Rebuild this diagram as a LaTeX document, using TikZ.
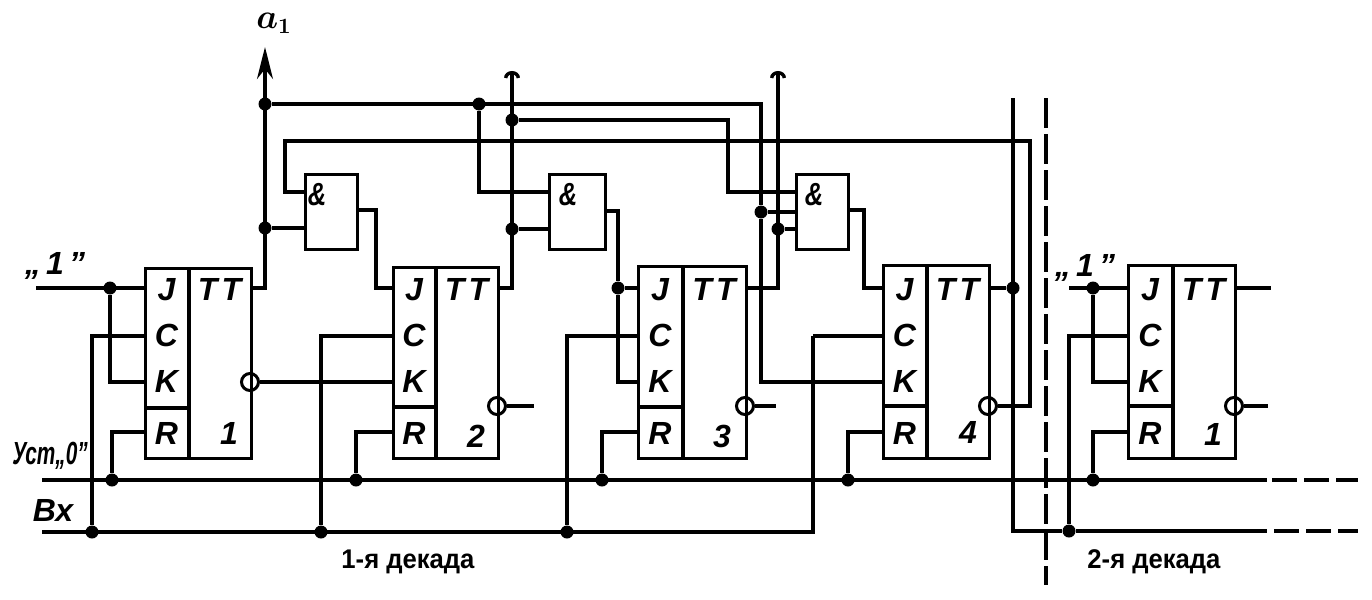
\documentclass[tikz,border=0pt]{standalone}
\usepackage{fontspec}
\setmainfont{Liberation Sans}
\usetikzlibrary{arrows.meta}
\tikzset{
	wire/.style={line width=1.7pt},
	dot/.style={circle, fill=black, inner sep=0, minimum size=6.5pt},
	inv/.style={circle, draw, line width=1.5pt, inner sep=0, minimum size=8.5pt},
	cell/.style={draw, line width=1.7pt, inner sep=0, anchor=north west},
	lbl/.style={font=\fontsize{16}{16}\selectfont\bfseries\itshape, inner sep=0},
	title/.style={font=\fontsize{13.5}{13.5}\selectfont\bfseries, inner sep=0, xscale=.95},
	breaks/.style={dash pattern=on 12.5pt off 3.5pt}
}
\begin{document}
\begin{tikzpicture}[x=.5pt, y=-.5pt]
	\useasboundingbox (0, 0) rectangle (1372, 600);
	\foreach \i/\xl/\xd/\xr/\yt/\ys/\yn/\xn/\yd in {1/144/189/250/267/408/382/229/433, 2/392/436/497/266/407/406/476/436, 3/637/683/745/265/407/406/722/436, 4/882/927/988/264/406/406/968/432, 5/1127/1173/1234/264/406/406/1213/434}
	{
		\node[cell, minimum width={(\xr-\xl)*.5pt}, minimum height={(457-\yt)*.5pt}] (ff\i) at (\xl, \yt) {};
		\draw[wire] (\xd, \yt) -- (\xd, 457);
		\draw[wire] (\xl, \ys) -- (\xd, \ys);
		\coordinate (j\i) at (\xl, 288);
		\coordinate (c\i) at (\xl, 336);
		\coordinate (k\i) at (\xl, 382);
		\coordinate (r\i) at (\xl, 432);
		\coordinate (q\i) at (\xr, 288);
		\node[inv] (n\i) at (\xr, \yn) {};
		\node[lbl] (jt\i) at ({(\xl+\xd)/2}, 290) {J};
		\node[lbl] (ct\i) at ({(\xl+\xd)/2}, 335) {C};
		\node[lbl] (kt\i) at ({(\xl+\xd)/2}, 381) {K};
		\node[lbl] (rt\i) at ({(\xl+\xd)/2}, 433) {R};
		\node[lbl] (tt\i) at ({(\xd+\xr)/2}, 289) {T\kern2pt T};
		\node[lbl] (num\i) at (\xn, \yd) {\ifnum\i=5 1\else\i\fi};
	}
	\foreach \i/\xl/\xr/\ya/\yb/\yc/\yo/\xa in {1/304/356/192/228/228/210/317, 2/548/604/192/229/229/211/568, 3/795/847/192/212/229/210/814}
	{
		\node[cell, minimum width={(\xr-\xl)*.5pt}, minimum height=37.5pt] (g\i) at (\xl, 173) {};
		\node[lbl, xscale=.8] (gt\i) at (\xa, 195) {\&};
		\coordinate (g\i a) at (\xl, \ya);
		\coordinate (g\i b) at (\xl, \yb);
		\coordinate (g\i c) at (\xl, \yc);
		\coordinate (g\i o) at (\xr, \yo);
	}
	\foreach \n/\x/\y in {dja/110/288, djb/618/288, djc/1013/288, djd/1093/288, uu1/112/480, uu2/356/480, uu3/602/480, uu4/848/480, uu5/1093/480, vv1/92/532, vv2/321/532, vv3/567/532, vv5/1069/531, tpa/265/104, tpb/479/104, tpc/512/120, gta/265/228, gtb/512/229, gtc/761/212, gtd/778/229}
		\node[dot] (\n) at (\x, \y) {};
	\coordinate (tipa) at (265, 47);
	\coordinate (tipb) at (512, 71);
	\coordinate (tipc) at (778, 71);
	\coordinate (fbr) at (1030, 141);
	\coordinate (fbl) at (285, 141);
	\coordinate (cga) at (376, 250);
	\coordinate (cgb) at (728, 150);
	\coordinate (cgc) at (864, 250);
	\coordinate (cck) at (813, 336);
	\coordinate (top) at (1013, 98);
	\coordinate (ina) at (36, 288);
	\coordinate (inb) at (1069, 288);
	\coordinate (usa) at (42, 480);
	\coordinate (usb) at (1267, 480);
	\coordinate (usc) at (1272, 480);
	\coordinate (usd) at (1358, 480);
	\coordinate (vxa) at (42, 532);
	\coordinate (vxb) at (1267, 531);
	\coordinate (vxc) at (1274, 531);
	\coordinate (vxd) at (1358, 531);
	\coordinate (spa) at (1046, 98);
	\coordinate (spb) at (1046, 585);
	\coordinate (ena) at (534, 406);
	\coordinate (enb) at (776, 406);
	\coordinate (enc) at (1268, 406);
	\coordinate (end) at (1271, 288);
	\begin{scope}[wire]
		\draw (ina) -- (j1);
		\draw (dja) |- (k1);
		\draw (c1) -| (vv1);
		\draw (r1) -| (uu1);
		\draw (n1) -- (k2);
		\draw (c2) -| (vv2);
		\draw (r2) -| (uu2);
		\draw (c3) -| (vv3);
		\draw (r3) -| (uu3);
		\draw (r4) -| (uu4);
		\draw (c4) -- (cck);
		\draw (vxa) -| (cck);
		\draw[-{Stealth[length=16pt, width=8pt, inset=5pt]}] (q1) -| (tipa);
		\draw[-{Arc Barb[length=3.5pt, width=8pt]}] (q2) -| (tipb);
		\draw[-{Arc Barb[length=3.5pt, width=8pt]}] (q3) -| (tipc);
		\draw (tpa) -| (gtc);
		\draw (gtc) |- (k4);
		\draw (tpb) |- (g2a);
		\draw (tpc) -| (cgb);
		\draw (cgb) |- (g3a);
		\draw (n4) -| (fbr) -- (fbl) |- (g1a);
		\draw (gta) -- (g1b);
		\draw (gtb) -- (g2b);
		\draw (gtc) -- (g3b);
		\draw (gtd) -- (g3c);
		\draw (g1o) -| (cga) |- (j2);
		\draw (g2o) -| (djb);
		\draw (djb) -- (j3);
		\draw (djb) |- (k3);
		\draw (g3o) -| (cgc) |- (j4);
		\draw (q4) -- (djc);
		\draw (top) |- (vv5);
		\draw (inb) -- (j5);
		\draw (djd) |- (k5);
		\draw (c5) -| (vv5);
		\draw (r5) -| (uu5);
		\draw (usa) -- (usb);
		\draw (vv5) -- (vxb);
		\draw[breaks] (usc) -- (usd);
		\draw[breaks] (vxc) -- (vxd);
		\draw[dash pattern=on 15pt off 3pt] (spa) -- (spb);
		\draw (n2) -- (ena);
		\draw (n3) -- (enb);
		\draw (n5) -- (enc);
		\draw (q5) -- (end);
	\end{scope}
	\node[lbl, font=\fontsize{16}{16}\selectfont\boldmath] (lba) at (274, 23) {$a_1$};
	\node[lbl] (lbb) at (55, 266) {„\,1\,"};
	\node[lbl] (lbc) at (1085, 268) {„\,1\,"};
	\node[lbl, xscale=.65] (lbd) at (50, 456) {Уст„0"};
	\node[lbl] (lbe) at (53, 510) {Вх};
	\node[title] (lbf) at (408, 562) {1-я декада};
	\node[title] (lbg) at (1154, 562) {2-я декада};
\end{tikzpicture}
\end{document}
